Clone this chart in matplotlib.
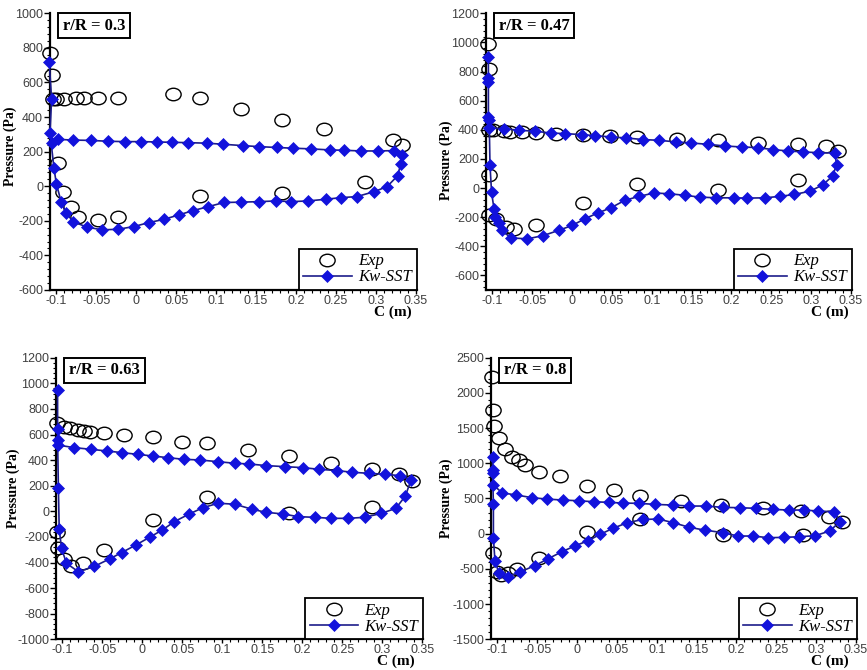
import matplotlib
matplotlib.use('Agg')
import matplotlib.pyplot as plt
from matplotlib.path import Path
from matplotlib.ticker import MultipleLocator, AutoMinorLocator, FuncFormatter
import numpy as np

plt.rcParams['axes.unicode_minus'] = False

# ---------------- data ----------------
titles = ["r/R = 0.3", "r/R = 0.47", "r/R = 0.63", "r/R = 0.8"]

p1_exp_x = [-0.108, -0.106, -0.104, -0.100, -0.091, -0.075, -0.066, -0.048, -0.023, 0.046, 0.080, 0.131, 0.183, 0.235, 0.321, 0.333,
            -0.098, -0.092, -0.082, -0.073, -0.048, -0.023, 0.080, 0.183, 0.286]
p1_exp_y = [772, 643, 506, 506, 506, 508, 508, 508, 513, 532, 509, 449, 383, 331, 268, 239,
            132, -32, -119, -176, -195, -180, -56, -40, 27]
p1_sst_x = [-0.105, -0.098, -0.079, -0.057, -0.035, -0.014, 0.006, 0.026, 0.045, 0.065, 0.088, 0.108, 0.133, 0.154, 0.176, 0.196,
            0.219, 0.242, 0.260, 0.281, 0.302, 0.323, 0.333, 0.331, 0.327, 0.314, 0.298, 0.276, 0.256, 0.238, 0.215, 0.194,
            0.175, 0.154, 0.131, 0.110, 0.090, 0.071, 0.053, 0.035, 0.016, -0.003, -0.023, -0.043, -0.062, -0.079, -0.088,
            -0.094, -0.100, -0.103, -0.108, -0.106, -0.109]
p1_sst_y = [248, 271, 267, 265, 260, 258, 258, 256, 254, 252, 249, 243, 235, 229, 224, 220,
            216, 210, 208, 204, 204, 206, 181, 127, 60, -2, -31, -60, -66, -75, -85, -89,
            -85, -89, -92, -94, -118, -141, -166, -191, -210, -233, -249, -252, -236, -205, -153,
            -90, 13, 104, 309, 503, 720]

p2_exp_x = [-0.105, -0.104, -0.104, -0.099, -0.086, -0.078, -0.063, -0.045, -0.020, 0.014, 0.048, 0.081, 0.132, 0.183, 0.234, 0.283, 0.319, 0.334,
            -0.104, -0.104, -0.096, -0.083, -0.073, -0.045, 0.014, 0.081, 0.183, 0.283]
p2_exp_y = [989, 815, 397, 400, 393, 388, 382, 378, 372, 367, 355, 351, 339, 333, 310, 300, 289, 255,
            88, -188, -210, -270, -280, -255, -103, 30, -16, 57]
p2_sst_x = [-0.104, -0.085, -0.067, -0.046, -0.027, -0.009, 0.012, 0.029, 0.049, 0.068, 0.089, 0.109, 0.130, 0.149, 0.171, 0.192,
            0.213, 0.233, 0.252, 0.271, 0.290, 0.309, 0.330, 0.332, 0.327, 0.315, 0.299, 0.279, 0.261, 0.242, 0.220, 0.203,
            0.181, 0.160, 0.142, 0.122, 0.103, 0.084, 0.066, 0.049, 0.032, 0.016, 0.000, -0.017, -0.036, -0.056, -0.077,
            -0.088, -0.092, -0.097, -0.098, -0.101, -0.103, -0.104, -0.105, -0.105, -0.105, -0.105]
p2_sst_y = [412, 408, 397, 390, 378, 374, 367, 360, 351, 344, 333, 328, 317, 310, 300, 289,
            282, 278, 264, 255, 248, 243, 241, 158, 83, 23, -21, -44, -57, -67, -69, -67,
            -67, -62, -50, -39, -34, -57, -85, -135, -172, -211, -257, -291, -326, -349, -342,
            -290, -240, -199, -141, -30, 157, 470, 489, 730, 753, 900]

p3_exp_x = [-0.107, -0.098, -0.090, -0.081, -0.073, -0.065, -0.048, -0.023, 0.013, 0.049, 0.081, 0.132, 0.184, 0.236, 0.287, 0.321, 0.337,
            -0.107, -0.106, -0.098, -0.089, -0.074, -0.048, 0.013, 0.081, 0.184, 0.287]
p3_exp_y = [692, 660, 650, 636, 625, 617, 611, 600, 583, 544, 531, 479, 432, 380, 328, 289, 237,
            -160, -290, -372, -425, -402, -302, -68, 109, -10, 31]
p3_sst_x = [-0.106, -0.086, -0.064, -0.044, -0.025, -0.006, 0.013, 0.032, 0.052, 0.072, 0.094, 0.116, 0.133, 0.155, 0.178, 0.201,
            0.221, 0.244, 0.262, 0.283, 0.303, 0.322, 0.336, 0.329, 0.317, 0.299, 0.278, 0.257, 0.236, 0.216, 0.195, 0.176,
            0.155, 0.137, 0.116, 0.095, 0.076, 0.058, 0.040, 0.025, 0.009, -0.008, -0.026, -0.041, -0.060, -0.080, -0.095,
            -0.101, -0.104, -0.105, -0.106, -0.106, -0.106]
p3_sst_y = [518, 498, 484, 471, 458, 445, 432, 419, 406, 401, 388, 375, 370, 357, 349, 341,
            328, 318, 305, 297, 289, 279, 245, 120, 23, -16, -47, -55, -55, -47, -42, -21,
            -8, 16, 55, 63, 29, -23, -81, -146, -203, -263, -323, -372, -430, -472, -406,
            -289, -141, 180, 557, 641, 948]

p4_exp_x = [-0.107, -0.105, -0.104, -0.098, -0.091, -0.082, -0.073, -0.065, -0.048, -0.022, 0.012, 0.046, 0.079, 0.131, 0.181, 0.233, 0.281, 0.316, 0.333,
            -0.105, -0.100, -0.095, -0.087, -0.075, -0.048, 0.012, 0.079, 0.183, 0.283]
p4_exp_y = [2222, 1757, 1530, 1355, 1205, 1090, 1047, 970, 881, 815, 681, 620, 535, 464, 407, 360, 322, 241, 170,
            -278, -540, -587, -555, -500, -340, 28, 203, -19, -19]
p4_sst_x = [-0.105, -0.094, -0.076, -0.056, -0.038, -0.018, 0.002, 0.021, 0.040, 0.058, 0.078, 0.098, 0.120, 0.141, 0.162, 0.183,
            0.205, 0.225, 0.246, 0.266, 0.285, 0.303, 0.322, 0.330, 0.317, 0.299, 0.279, 0.260, 0.240, 0.221, 0.202, 0.183,
            0.160, 0.141, 0.121, 0.102, 0.083, 0.063, 0.045, 0.029, 0.014, -0.003, -0.019, -0.037, -0.053, -0.071, -0.087,
            -0.098, -0.103, -0.105, -0.105, -0.106, -0.106, -0.106]
p4_sst_y = [692, 580, 549, 511, 492, 478, 468, 454, 445, 435, 431, 416, 407, 393, 393, 374,
            369, 360, 345, 336, 336, 322, 312, 170, 38, -28, -43, -52, -57, -33, -33, 14,
            52, 90, 156, 208, 203, 156, 76, -9, -99, -175, -256, -360, -454, -540, -610,
            -560, -390, -60, 422, 858, 905, 1094]

y_limits = [(-600, 1000), (-700, 1200), (-1000, 1200), (-1500, 2500)]
y_steps = [200, 200, 200, 500]
x_limits = (-0.108, 0.351)

# ---------------- layout ----------------
W, H = 867, 670
boxes_px = [(50, 416.7, 13.3, 290), (486, 851.7, 13.3, 290),
            (56, 423, 357.7, 639.3), (491, 856.7, 357.7, 639.3)]
ylab_pos = [(-0.09, 0.52), (-0.09, 0.47), (-0.098, 0.535), (-0.104, 0.50)]
clab_dx = [-5, -3.5, -8, -8]

ellipse = Path(Path.unit_circle().vertices * np.array([1.22, 1.0]), Path.unit_circle().codes)

serif = 'Liberation Serif'
sans = 'Liberation Sans'

fig = plt.figure(figsize=(W / 100, H / 100), dpi=100)

data = [(p1_exp_x, p1_exp_y, p1_sst_x, p1_sst_y),
        (p2_exp_x, p2_exp_y, p2_sst_x, p2_sst_y),
        (p3_exp_x, p3_exp_y, p3_sst_x, p3_sst_y),
        (p4_exp_x, p4_exp_y, p4_sst_x, p4_sst_y)]


def xfmt(v, pos):
    s = f'{v:.2f}'.rstrip('0').rstrip('.')
    if s in ('-0', ''):
        s = '0'
    return s


def yfmt(v, pos):
    return f'{int(round(v))}'


for i, (ex, ey, sx, sy) in enumerate(data):
    l, r, t, b = boxes_px[i]
    ax = fig.add_axes([l / W, (H - b) / H, (r - l) / W, (b - t) / H])
    ax.set_xlim(*x_limits)
    ax.set_ylim(*y_limits[i])
    for sp in ('top', 'right'):
        ax.spines[sp].set_visible(False)
    for sp in ('left', 'bottom'):
        ax.spines[sp].set_linewidth(1.6)
        ax.spines[sp].set_color('black')

    ax.plot(ex, ey, linestyle='none', marker=ellipse, markersize=11,
            markerfacecolor='none', markeredgecolor='black', markeredgewidth=1.0,
            label='Exp', clip_on=False, zorder=3)
    ax.plot(sx, sy, color='#1c1c8a', linewidth=1.2, marker='D', markersize=6.0,
            markerfacecolor='#1212dc', markeredgecolor='#1212dc', markeredgewidth=0.5,
            label='Kw-SST', clip_on=False, zorder=4)

    ax.xaxis.set_major_locator(MultipleLocator(0.05))
    ax.xaxis.set_minor_locator(AutoMinorLocator(5))
    ax.yaxis.set_major_locator(MultipleLocator(y_steps[i]))
    ax.yaxis.set_minor_locator(AutoMinorLocator(5))
    ax.xaxis.set_major_formatter(FuncFormatter(xfmt))
    ax.yaxis.set_major_formatter(FuncFormatter(yfmt))
    ax.tick_params(which='major', direction='out', length=4, width=1.0, pad=1,
                   labelsize=9, colors='black')
    ax.tick_params(axis='x', which='major', length=3, pad=0.5)
    ax.tick_params(axis='both', which='major', labelcolor='#404040')
    ax.tick_params(which='minor', direction='out', length=2.5, width=0.8, colors='black')
    for lab in ax.get_xticklabels() + ax.get_yticklabels():
        lab.set_fontfamily(sans)

    ax.set_ylabel('Pressure (Pa)', fontfamily=serif, fontweight='bold', fontsize=10)
    ax.yaxis.set_label_coords(*ylab_pos[i])

    aw = r - l
    ah = b - t
    ax.text(1 + clab_dx[i] / aw, -22 / ah, 'C (m)', transform=ax.transAxes,
            ha='right', va='center', fontfamily=serif, fontweight='bold', fontsize=11)

    ax.text(13 / aw, 1 - 4.5 / ah, titles[i], transform=ax.transAxes,
            ha='left', va='top', fontfamily=serif, fontweight='bold', fontsize=12,
            bbox=dict(boxstyle='square,pad=0.28', facecolor='white', edgecolor='black', linewidth=1.4),
            zorder=6)

    leg = ax.legend(loc='lower right', borderaxespad=0, frameon=True, fancybox=False,
                    framealpha=1, edgecolor='black', numpoints=1, handlelength=2.9,
                    handletextpad=0.4, labelspacing=0.0, borderpad=0.28,
                    prop=dict(family=serif, style='italic', size=12))
    leg.get_frame().set_linewidth(1.3)
    leg.set_zorder(7)

fig.savefig('out.png', dpi=100)
